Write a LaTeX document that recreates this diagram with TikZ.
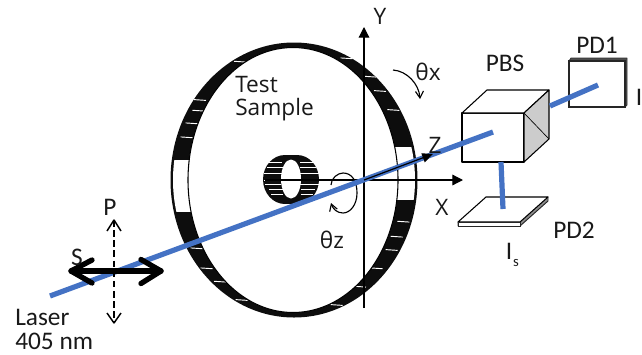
\documentclass[tikz,border=0pt]{standalone}
\usepackage{fontspec}
\setmainfont{Carlito}
\newfontfamily\opensans{Open Sans}
\usetikzlibrary{arrows.meta,calc}
\definecolor{beam}{HTML}{4472C4}
\tikzset{
  x=0.75pt,y=-0.75pt,
  lbl/.style={inner sep=0pt,font=\fontsize{19}{20}\selectfont,text=black!90},
  lblo/.style={inner sep=0pt,font=\fontsize{17}{18}\selectfont\opensans,text=black!90},
  beamline/.style={draw=beam,line width=3.9pt},
  axis/.style={draw=black,line width=0.9pt,-{Triangle[length=8pt,width=8pt]}},
  plain/.style={draw=black,line width=0.8pt,line join=round},
  thin curve/.style={draw=black,line width=0.85pt,-{Straight Barb[length=5pt,width=6pt]}},
  tick/.style={draw=white,line width=0.7pt},
  bigarrow/.style={draw=black,line width=4pt,line cap=round,line join=round},
}
\begin{document}
\begin{tikzpicture}
\useasboundingbox (0,0) rectangle (642,354);
% ring
\fill[black!95] (294,180) ellipse [x radius=123.5,y radius=137.5];
\foreach \X/\Y in {560/115,630/170,660/213,700/270,730/605,710/650,695/690,650/745,600/800,530/855,
  240/125,120/240,115/272,95/310,80/352,110/685,140/745,180/785,245/840}{
  \draw[tick] ({160+\X/3-6},{20+\Y/3-0.4}) -- ({160+\X/3+6},{20+\Y/3+0.4});
}
\begin{scope}
  \clip (294,180) ellipse [x radius=121,y radius=135];
  \fill[white] (170,160) rectangle (200,212);
  \fill[white] (390,147) rectangle (420,200);
\end{scope}
\draw[fill=white,draw=black,line width=0.8pt] (293,180) ellipse [x radius=105,y radius=132.5];
% cylinder
\fill[black!95] (285,179.5) ellipse [x radius=22,y radius=24.5];
\fill[black!95] (297,179.5) ellipse [x radius=22,y radius=24.5];
\fill[black!95] (285,155) rectangle (297,204);
\foreach \X/\Y/\L in {75/97/14,75/113/16,70/130/18,70/150/18,70/163/16,78/178/14,82/194/12,
  172/97/14,175/113/16,180/130/20,180/163/20,175/178/14,170/194/12}{
  \draw[tick] ({250+\X/3-\L/2},{130+\Y/3}) -- ({250+\X/3+\L/2},{130+\Y/3});
}
\fill[white] (291,179) ellipse [x radius=10,y radius=19.5];
% axes
\coordinate (xs) at (265,180); \coordinate (xe) at (463,180);
\coordinate (ys) at (364,308); \coordinate (ye) at (364,27);
\coordinate (o) at (364,180); \coordinate (ze) at (433,154);
\draw[axis] (xs) -- (xe);
\draw[axis] (ys) -- (ye);
% theta curves
\coordinate (txs) at (393,70); \coordinate (txe) at (420,99);
\draw[thin curve] (txs) .. controls (407,71) and (419,84) .. (txe);
\coordinate (tzs) at (331,185); \coordinate (tze) at (331,203);
\draw[thin curve] (tzs) .. controls (331,178) and (338,173) .. (343,173)
  .. controls (352,173) and (357,181) .. (357,193)
  .. controls (357,205) and (350,213) .. (343,213)
  .. controls (337,213) and (333,209) .. (tze);
% cube
\coordinate (c1) at (462,113); \coordinate (c2) at (524,113);
\coordinate (c3) at (524,162); \coordinate (c4) at (462,162);
\coordinate (c5) at (487,90);  \coordinate (c6) at (549,90);
\coordinate (c7) at (549,139);
\draw[plain,fill=white] (c1) -- (c2) -- (c3) -- (c4) -- cycle;
\draw[plain,fill=white] (c1) -- (c5) -- (c6) -- (c2) -- cycle;
\draw[plain,fill=black!20] (c2) -- (c6) -- (c7) -- (c3) -- cycle;
\draw[draw=black,line width=0.5pt] (c2) -- (c7);
% PD1
\draw[draw=black!80,fill=black!70,line width=0.6pt,line join=round] (569,61) -- (571,58) -- (627,58) -- (627,105) -- (625,107) -- cycle;
\draw[draw=black!85,fill=white,line width=0.8pt] (569,61) rectangle (625,107);
% PD2
\draw[draw=black!85,fill=black!45,line width=0.7pt,line join=round] (458,222) -- (458,226) -- (520,226) -- (548,201) -- (548,197) -- cycle;
\draw[plain,fill=white] (458,222) -- (486,197) -- (548,197) -- (520,222) -- cycle;
\draw[draw=black!85,fill=white,line width=0.7pt] (458,222) rectangle (520,226);
% beams
\coordinate (l1) at (50,296); \coordinate (l2) at (493,132);
\coordinate (l3) at (550,106); \coordinate (l4) at (598,85);
\coordinate (l5) at (501,162); \coordinate (l6) at (503,209);
\draw[beamline] (l1) -- (l2);
\draw[beamline] (l3) -- (l4);
\draw[beamline] (l5) -- (l6);
% Z arrow
\draw[draw=black,line width=0.9pt,-{Triangle[length=8pt,width=7pt]}] (o) -- (ze);
% S arrow
\coordinate (sl) at (71,271); \coordinate (sr) at (161,271);
\draw[bigarrow] (sl) -- (sr);
\draw[bigarrow] (92,260) -- (sl) -- (92,283);
\draw[bigarrow] (141,259.5) -- (sr) -- (141,283.5);
% P arrow
\coordinate (pt) at (114,220); \coordinate (pb) at (114,323);
\draw[draw=black,line width=1.1pt,dash pattern=on 5pt off 2.6pt] (pt) -- (pb);
\draw[draw=black,line width=1.1pt,line join=round] (107,231) -- (pt) -- (121,231);
\draw[draw=black,line width=1.1pt,line join=round] (107,313) -- (pb) -- (121,313);
% labels
\node[lblo] (ly) at (380,16) {Y};
\node[lblo] (lz) at (435,145) {Z};
\node[lblo] (lx) at (442,207) {X};
\node[lblo] (ltx) at (428,72) {θx};
\node[lblo] (ltz) at (332,240) {θz};
\node[lblo,anchor=west] (lt) at (235,85) {Test};
\node[lblo,anchor=west] (ls) at (235,110) {Sample};
\node[lbl] (lpbs) at (505,63) {PBS};
\node[lbl] (lpd1) at (597,45) {PD1};
\node[lbl] (lpd2) at (574,230) {PD2};
\node[lbl] (li) at (639,97) {I};
\node[lbl] (lis) at (509,251) {I};
\node[inner sep=0pt,font=\fontsize{11}{12}\selectfont,text=black!90] (liss) at (516,263) {s};
\node[lbl] (lp) at (110,207) {P};
\node[lbl] (lS) at (77,257) {S};
\node[lbl,anchor=west] (ll1) at (15,317) {Laser};
\node[lbl,anchor=west] (ll2) at (15,341) {405 nm};
\end{tikzpicture}
\end{document}
